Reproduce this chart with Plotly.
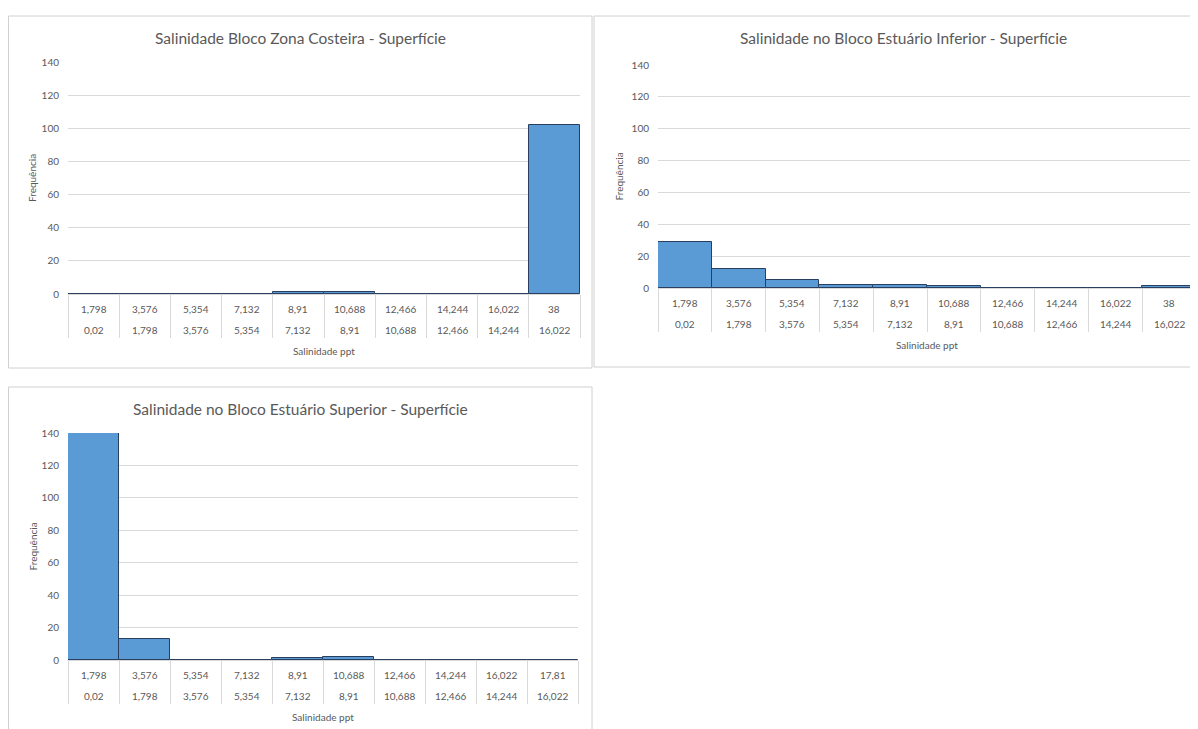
import plotly.graph_objects as go

# page body has an 8px margin: figure drawn at (8, 8) in the 1198x729 window
OFF = 8
W, H = 1198 - OFF, 729 - OFF

# ---- data ----
lower_bounds = ["0,02", "1,798", "3,576", "5,354", "7,132", "8,91", "10,688", "12,466", "14,244", "16,022"]
upper_costeira = ["1,798", "3,576", "5,354", "7,132", "8,91", "10,688", "12,466", "14,244", "16,022", "38"]
upper_inferior = ["1,798", "3,576", "5,354", "7,132", "8,91", "10,688", "12,466", "14,244", "16,022", "38"]
upper_superior = ["1,798", "3,576", "5,354", "7,132", "8,91", "10,688", "12,466", "14,244", "16,022", "17,81"]

freq_costeira = [0, 0, 0, 0, 1, 1, 0, 0, 0, 102]
freq_inferior = [29, 12, 5, 2, 2, 1, 0, 0, 0, 1]
freq_superior = [140, 13, 0, 0, 1, 2, 0, 0, 0, 0]

titles = [
    "Salinidade Bloco Zona Costeira - Superfície",
    "Salinidade no Bloco Estuário Inferior - Superfície",
    "Salinidade no Bloco Estuário Superior - Superfície",
]
y_ticks = [0, 20, 40, 60, 80, 100, 120, 140]
x_title = "Salinidade ppt"
y_title = "Frequência"

FONT = "Lato, Carlito, Calibri, sans-serif"
GREY = "#595959"
GRID = "#D9D9D9"
BAR = "#5B9BD5"
EDGE = "#2A3F5F"

def px(x):
    return max(x - OFF, 0.5) / W

def py(y):
    return 1 - max(y - OFF, 0.5) / H

# layout geometry in window pixels: plot area (x0, x1, ytop, ybottom), box (x0, x1, y0, y1)
panels = [
    dict(plot=(68, 580, 62, 294), box=(8, 592, 16, 368), upper=upper_costeira, freq=freq_costeira),
    dict(plot=(658, 1196, 65, 288), box=(594, 1205, 16, 367), upper=upper_inferior, freq=freq_inferior),
    dict(plot=(68, 578, 433, 660), box=(8, 592, 387, 745), upper=upper_superior, freq=freq_superior),
]

fig = go.Figure()
shapes = []
annotations = []
layout_axes = {}
lab_font = dict(family=FONT, size=10, color=GREY)

for i, p in enumerate(panels):
    n = "" if i == 0 else str(i + 1)
    xa, ya = "x" + n, "y" + n
    cats = p["upper"]
    fig.add_trace(go.Bar(
        x=cats,
        y=p["freq"],
        customdata=lower_bounds,
        xaxis=xa, yaxis=ya,
        marker=dict(color=BAR, line=dict(color=EDGE, width=1)),
        showlegend=False,
        hovertemplate="%{customdata} – %{x}: %{y}<extra></extra>",
    ))
    x0, x1, yt, yb = p["plot"]
    layout_axes["xaxis" + n] = dict(
        domain=[px(x0), px(x1)], anchor=ya, type="category",
        categoryorder="array", categoryarray=cats,
        range=[-0.5, len(cats) - 0.5],
        showgrid=False, showline=False, automargin=False,
        showticklabels=False, ticks="outside", tickson="boundaries",
        ticklen=43, tickcolor=GRID, tickwidth=1,
        fixedrange=True,
    )
    layout_axes["yaxis" + n] = dict(
        domain=[py(yb), py(yt)], anchor=xa, range=[0, 140], automargin=False,
        tickvals=y_ticks, showgrid=True, gridcolor=GRID, gridwidth=1,
        zeroline=True, zerolinecolor=GRID, zerolinewidth=1,
        showline=False, ticks="", ticklabelstandoff=8,
        tickfont=lab_font,
        fixedrange=True,
    )
    # two-level category labels (upper bound above, lower bound below), placed by category index
    for k, (up, lo) in enumerate(zip(cats, lower_bounds)):
        annotations.append(dict(text=up, xref=xa, x=k, yref="paper", y=py(yb + 15),
                                showarrow=False, xanchor="center", yanchor="middle", font=lab_font))
        annotations.append(dict(text=lo, xref=xa, x=k, yref="paper", y=py(yb + 36),
                                showarrow=False, xanchor="center", yanchor="middle", font=lab_font))
    bx0, bx1, by0, by1 = p["box"]
    shapes.append(dict(type="rect", xref="paper", yref="paper",
                       x0=px(bx0), x1=px(bx1), y0=py(by1), y1=py(by0),
                       line=dict(color="#D0D0D0", width=1), fillcolor="rgba(0,0,0,0)", layer="below"))
    cx = (x0 + x1) / 2
    tx = 300 if i != 1 else 903
    annotations.append(dict(text=titles[i], xref="paper", yref="paper", x=px(tx),
                            y=py(by0 + 22), showarrow=False, xanchor="center", yanchor="middle",
                            font=dict(family=FONT, size=15.5, color=GREY)))
    annotations.append(dict(text=x_title, xref="paper", yref="paper", x=px(cx), y=py(yb + 57),
                            showarrow=False, xanchor="center", yanchor="middle", font=lab_font))
    annotations.append(dict(text=y_title, xref="paper", yref="paper", x=px(bx0 + 24), y=py((yt + yb) / 2),
                            showarrow=False, textangle=-90, xanchor="center", yanchor="middle",
                            font=lab_font))

fig.update_layout(
    width=W, height=H, margin=dict(l=0, r=0, t=0, b=0, pad=0), autosize=False,
    paper_bgcolor="white", plot_bgcolor="white",
    bargap=0, shapes=shapes, annotations=annotations,
    font=dict(family=FONT, color=GREY),
    **layout_axes,
)

fig.write_html("out.html", config={"displayModeBar": False})
